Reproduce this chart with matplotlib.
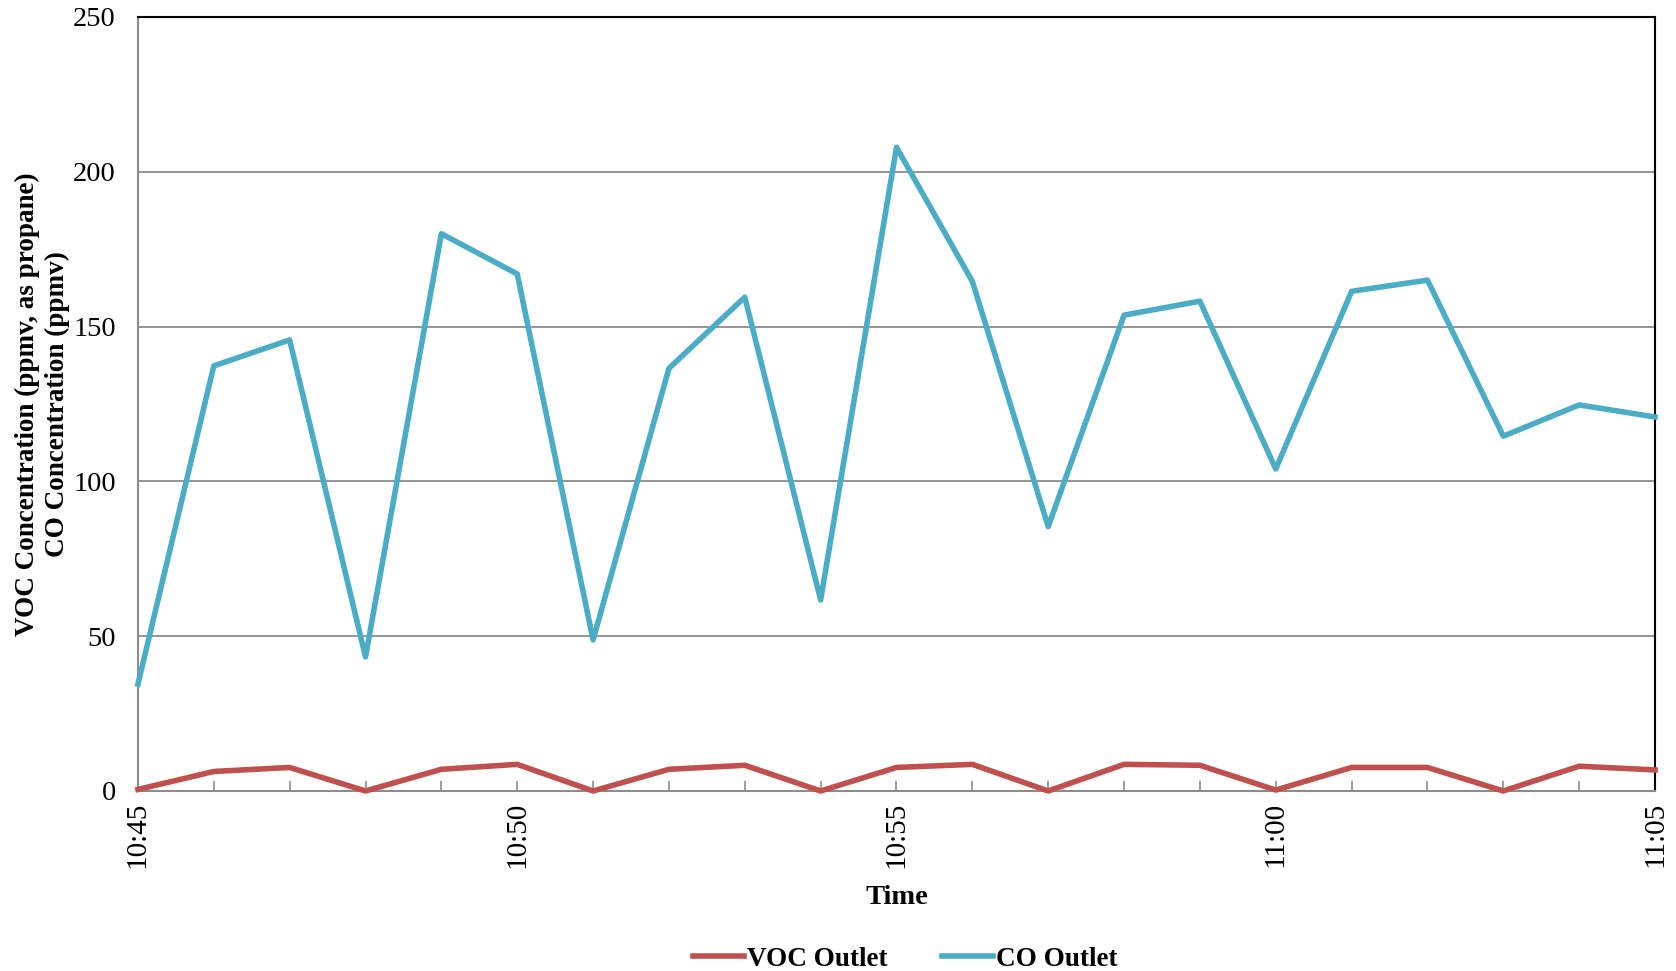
import matplotlib
matplotlib.use("Agg")
import matplotlib.pyplot as plt
from matplotlib.ticker import MultipleLocator

# one reading per minute, 10:45 to 11:05
times = ["10:45", "10:46", "10:47", "10:48", "10:49", "10:50", "10:51",
         "10:52", "10:53", "10:54", "10:55", "10:56", "10:57", "10:58",
         "10:59", "11:00", "11:01", "11:02", "11:03", "11:04", "11:05"]
voc_outlet = [0.5, 6.3, 7.6, 0.0, 7.0, 8.6, 0.0, 7.0, 8.3, 0.0, 7.6,
              8.6, 0.0, 8.6, 8.3, 0.3, 7.6, 7.6, 0.0, 8.0, 6.8]
co_outlet = [34.5, 137.3, 145.7, 43.3, 180.0, 167.0, 48.8, 136.5, 159.5,
             61.7, 207.9, 164.6, 85.4, 153.7, 158.2, 104.0, 161.4, 165.0,
             114.6, 124.7, 120.8]
major_labels = ["10:45", "10:50", "10:55", "11:00", "11:05"]

plt.rcParams["font.family"] = ["Liberation Serif", "DejaVu Serif"]

fig = plt.figure(figsize=(16.76, 9.71), dpi=100)
ax = fig.add_axes([0.0823, 0.1854, 0.9052, 0.7971])

x = list(range(len(times)))
ax.plot(x, voc_outlet, color="#c0504d", lw=4.0, label="VOC Outlet",
        solid_joinstyle="round", clip_on=False, zorder=3)
ax.plot(x, co_outlet, color="#4bacc6", lw=4.0, label="CO Outlet",
        solid_joinstyle="round", clip_on=False, zorder=3)

ax.set_xlim(0, len(times) - 1)
ax.set_ylim(0, 250)
ax.yaxis.set_major_locator(MultipleLocator(50))
ax.grid(axis="y", color="#8c8c8c", lw=1.3)
ax.set_axisbelow(True)

major_pos = [times.index(t) for t in major_labels]
ax.set_xticks(major_pos)
ax.set_xticklabels(major_labels, rotation=90, fontsize=21)
ax.set_xticks(x, minor=True)
ax.tick_params(axis="x", which="both", direction="in", length=7,
               width=1.2, color="#8c8c8c", pad=8)
ax.tick_params(axis="y", direction="in", length=0, labelsize=20.5, pad=16)

for side in ["left", "bottom"]:
    ax.spines[side].set_color("#8c8c8c")
    ax.spines[side].set_linewidth(1.5)
for side in ["top", "right"]:
    ax.spines[side].set_color("black")
    ax.spines[side].set_linewidth(1.5)

ax.set_xlabel("Time", fontsize=20.5, fontweight="bold", labelpad=12)
ax.set_ylabel("VOC Concentration (ppmv, as propane)\nCO Concentration (ppmv)",
              fontsize=19.5, fontweight="bold", labelpad=2, linespacing=1.28)

fig.legend(loc="center", bbox_to_anchor=(0.54, 0.012), ncol=2,
           frameon=False, handlelength=1.9, handletextpad=0.1,
           columnspacing=2.0, prop={"size": 19.5, "weight": "bold"})

fig.savefig("out.png", dpi=100)
